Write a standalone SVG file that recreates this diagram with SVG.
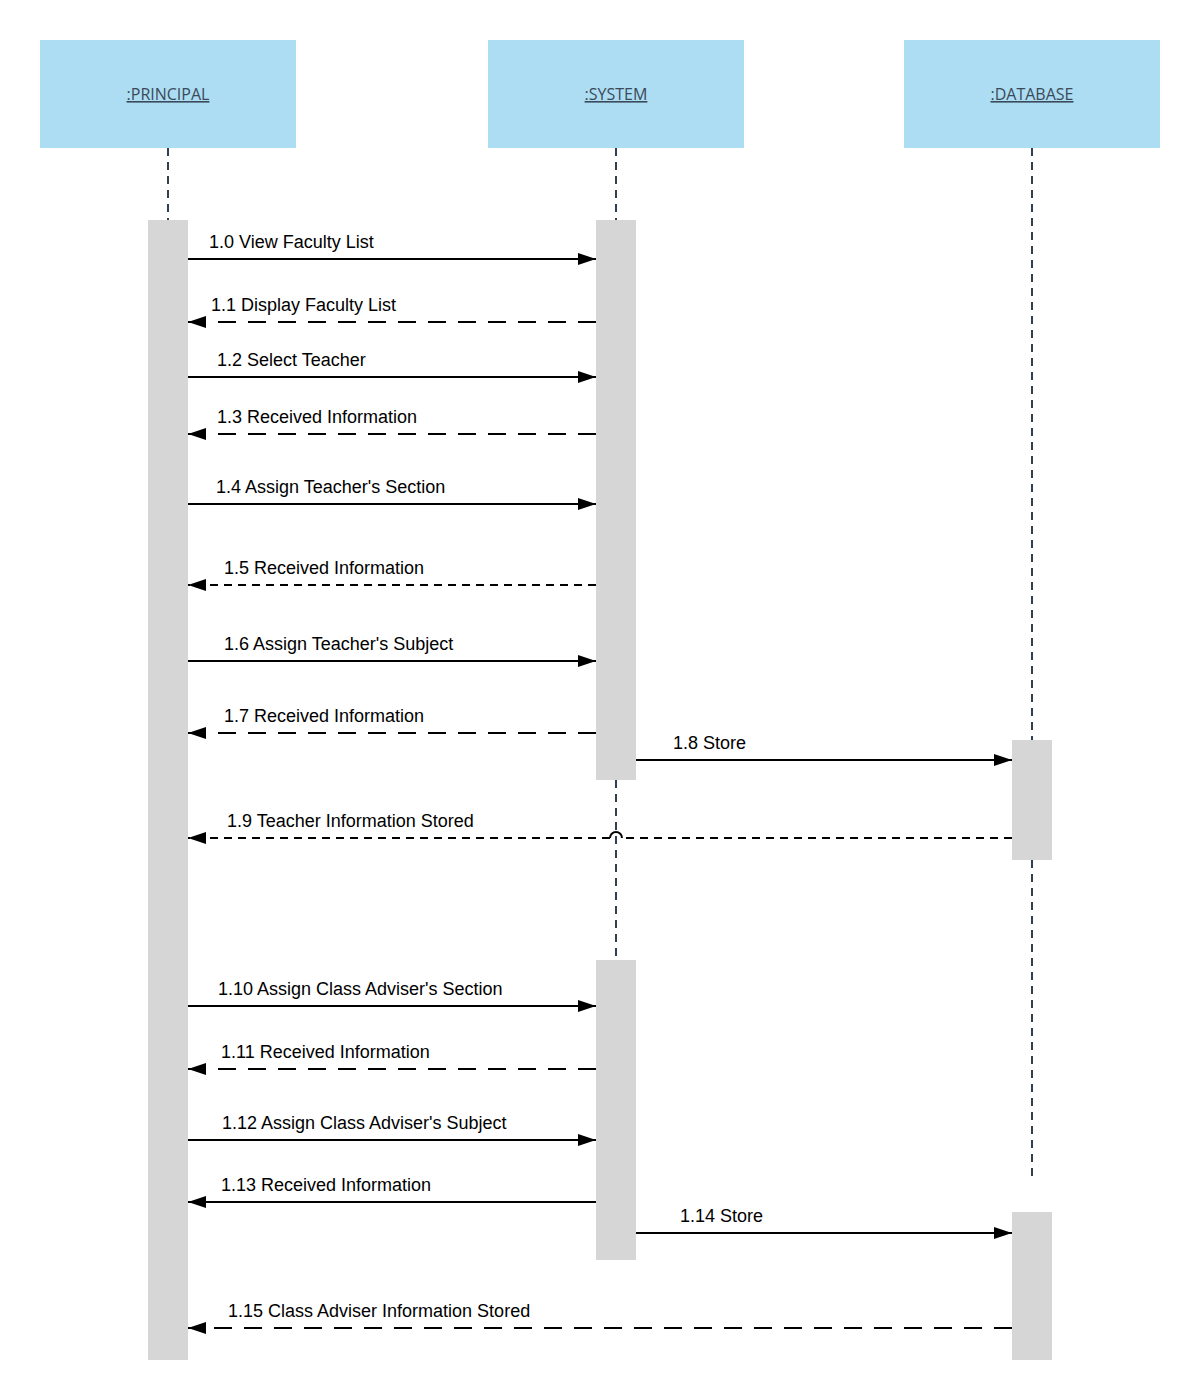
<svg xmlns="http://www.w3.org/2000/svg" width="1200" height="1400" viewBox="0 0 1200 1400">
<defs>
<style>
.head{fill:#acddf2}
.htxt{font-family:"Open Sans","Liberation Sans",sans-serif;font-size:16px;fill:#3b4a5a;text-anchor:middle;text-decoration:underline}
.life{stroke:#333f4b;stroke-width:2;stroke-dasharray:8,6;fill:none}
.act{fill:#d6d6d6}
.msg{stroke:#000;stroke-width:2;fill:none}
.ld{stroke-dasharray:18,12}
.sd{stroke-dasharray:8,6}
.lbl{font-family:"Liberation Sans",Arial,sans-serif;font-size:18px;fill:#000}
</style>
<marker id="ah" markerWidth="18" markerHeight="14" refX="18" refY="7" orient="auto" markerUnits="userSpaceOnUse">
<path d="M0,1 L18,7 L0,13 Z" fill="#000"/>
</marker>
</defs>
<rect width="1200" height="1400" fill="#fff"/>
<g id="lifelines">
<line class="life" x1="168" y1="148" x2="168" y2="220"/>
<line class="life" x1="616" y1="148" x2="616" y2="220"/>
<line class="life" x1="616" y1="780" x2="616" y2="960"/>
<line class="life" x1="1032" y1="148" x2="1032" y2="740"/>
<line class="life" x1="1032" y1="860" x2="1032" y2="1180"/>
</g>
<g id="principal">
<rect class="head" x="40" y="40" width="256" height="108"/>
<text class="htxt" x="168" y="100">:PRINCIPAL</text>
<rect class="act" x="148" y="220" width="40" height="1140"/>
</g>
<g id="system">
<rect class="head" x="488" y="40" width="256" height="108"/>
<text class="htxt" x="616" y="100">:SYSTEM</text>
<rect class="act" x="596" y="220" width="40" height="560"/>
<rect class="act" x="596" y="960" width="40" height="300"/>
</g>
<g id="database">
<rect class="head" x="904" y="40" width="256" height="108"/>
<text class="htxt" x="1032" y="100">:DATABASE</text>
<rect class="act" x="1012" y="740" width="40" height="120"/>
<rect class="act" x="1012" y="1212" width="40" height="148"/>
</g>
<g id="connectors">
<line class="msg" x1="188" y1="259" x2="596" y2="259" marker-end="url(#ah)"/>
<line class="msg ld" x1="596" y1="322" x2="188" y2="322" marker-end="url(#ah)"/>
<line class="msg" x1="188" y1="377" x2="596" y2="377" marker-end="url(#ah)"/>
<line class="msg ld" x1="596" y1="434" x2="188" y2="434" marker-end="url(#ah)"/>
<line class="msg" x1="188" y1="504" x2="596" y2="504" marker-end="url(#ah)"/>
<line class="msg sd" x1="596" y1="585" x2="188" y2="585" marker-end="url(#ah)"/>
<line class="msg" x1="188" y1="661" x2="596" y2="661" marker-end="url(#ah)"/>
<line class="msg ld" x1="596" y1="733" x2="188" y2="733" marker-end="url(#ah)"/>
<line class="msg" x1="636" y1="760" x2="1012" y2="760" marker-end="url(#ah)"/>
<line class="msg sd" x1="1012" y1="838" x2="622" y2="838"/>
<path class="msg" d="M622,838 A6,6 0 0 0 610,838"/>
<line class="msg sd" x1="610" y1="838" x2="188" y2="838" marker-end="url(#ah)"/>
<line class="msg" x1="188" y1="1006" x2="596" y2="1006" marker-end="url(#ah)"/>
<line class="msg ld" x1="596" y1="1069" x2="188" y2="1069" marker-end="url(#ah)"/>
<line class="msg" x1="188" y1="1140" x2="596" y2="1140" marker-end="url(#ah)"/>
<line class="msg" x1="596" y1="1202" x2="188" y2="1202" marker-end="url(#ah)"/>
<line class="msg" x1="636" y1="1233" x2="1012" y2="1233" marker-end="url(#ah)"/>
<line class="msg ld" x1="1012" y1="1328" x2="188" y2="1328" marker-end="url(#ah)"/>
</g>
<g id="labels">
<text class="lbl" x="209" y="248">1.0 View Faculty List</text>
<text class="lbl" x="211" y="311">1.1 Display Faculty List</text>
<text class="lbl" x="217" y="366">1.2 Select Teacher</text>
<text class="lbl" x="217" y="423">1.3 Received Information</text>
<text class="lbl" x="216" y="493">1.4 Assign Teacher's Section</text>
<text class="lbl" x="224" y="574">1.5 Received Information</text>
<text class="lbl" x="224" y="650">1.6 Assign Teacher's Subject</text>
<text class="lbl" x="224" y="722">1.7 Received Information</text>
<text class="lbl" x="673" y="749">1.8 Store</text>
<text class="lbl" x="227" y="827">1.9 Teacher Information Stored</text>
<text class="lbl" x="218" y="995">1.10 Assign Class Adviser's Section</text>
<text class="lbl" x="221" y="1058">1.11 Received Information</text>
<text class="lbl" x="222" y="1129">1.12 Assign Class Adviser's Subject</text>
<text class="lbl" x="221" y="1191">1.13 Received Information</text>
<text class="lbl" x="680" y="1222">1.14 Store</text>
<text class="lbl" x="228" y="1317">1.15 Class Adviser Information Stored</text>
</g>
</svg>
